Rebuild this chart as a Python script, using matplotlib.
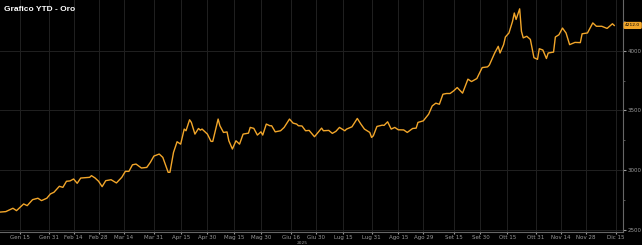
import pandas as pd
import matplotlib.pyplot as plt

# Dati (prezzo oro, 2025)
dates = [
    "2025-01-03", "2025-01-07", "2025-01-11", "2025-01-13", "2025-01-17", "2025-01-19",
    "2025-01-22", "2025-01-25", "2025-01-27", "2025-01-30", "2025-02-01", "2025-02-03",
    "2025-02-06", "2025-02-08", "2025-02-10", "2025-02-12", "2025-02-14", "2025-02-16",
    "2025-02-18", "2025-02-23", "2025-02-24", "2025-02-26", "2025-02-28", "2025-03-02",
    "2025-03-04", "2025-03-07", "2025-03-10", "2025-03-13", "2025-03-15", "2025-03-17",
    "2025-03-19", "2025-03-21", "2025-03-24", "2025-03-27", "2025-03-29", "2025-03-31",
    "2025-04-03", "2025-04-05", "2025-04-07", "2025-04-08", "2025-04-09", "2025-04-11",
    "2025-04-13", "2025-04-15", "2025-04-17", "2025-04-18", "2025-04-20", "2025-04-21",
    "2025-04-23", "2025-04-25", "2025-04-26", "2025-04-27", "2025-04-30", "2025-05-02",
    "2025-05-03", "2025-05-06", "2025-05-07", "2025-05-09", "2025-05-11", "2025-05-12",
    "2025-05-14", "2025-05-16", "2025-05-18", "2025-05-20", "2025-05-23", "2025-05-24",
    "2025-05-26", "2025-05-28", "2025-05-30", "2025-05-31", "2025-06-02", "2025-06-04",
    "2025-06-05", "2025-06-07", "2025-06-10", "2025-06-12", "2025-06-15", "2025-06-17",
    "2025-06-19", "2025-06-20", "2025-06-22", "2025-06-24", "2025-06-26", "2025-06-29",
    "2025-07-01", "2025-07-03", "2025-07-04", "2025-07-07", "2025-07-09", "2025-07-11",
    "2025-07-13", "2025-07-16", "2025-07-17", "2025-07-20", "2025-07-23", "2025-07-25",
    "2025-07-27", "2025-07-30", "2025-07-31", "2025-08-01", "2025-08-03", "2025-08-06",
    "2025-08-07", "2025-08-09", "2025-08-11", "2025-08-13", "2025-08-15", "2025-08-18",
    "2025-08-20", "2025-08-23", "2025-08-25", "2025-08-26", "2025-08-29", "2025-09-01",
    "2025-09-03", "2025-09-05", "2025-09-07", "2025-09-09", "2025-09-11", "2025-09-13",
    "2025-09-15", "2025-09-17", "2025-09-20", "2025-09-23", "2025-09-25", "2025-09-28",
    "2025-10-01", "2025-10-04", "2025-10-05", "2025-10-08", "2025-10-10", "2025-10-11",
    "2025-10-13", "2025-10-14", "2025-10-16", "2025-10-18", "2025-10-19", "2025-10-20",
    "2025-10-22", "2025-10-23", "2025-10-24", "2025-10-26", "2025-10-28", "2025-10-30",
    "2025-11-01", "2025-11-02", "2025-11-04", "2025-11-06", "2025-11-07", "2025-11-10",
    "2025-11-11", "2025-11-13", "2025-11-15", "2025-11-17", "2025-11-19", "2025-11-22",
    "2025-11-25", "2025-11-26", "2025-11-29", "2025-12-02", "2025-12-04", "2025-12-07",
    "2025-12-10", "2025-12-13", "2025-12-14",
]
prices = [
    2648, 2653, 2681, 2661, 2717, 2703,
    2753, 2765, 2745, 2765, 2801, 2815,
    2865, 2856, 2907, 2910, 2926, 2890,
    2934, 2940, 2954, 2935, 2907, 2862,
    2912, 2920, 2893, 2940, 2990, 2990,
    3045, 3051, 3018, 3023, 3065, 3118,
    3135, 3107, 3023, 2982, 2982, 3149,
    3238, 3218, 3344, 3330, 3422, 3400,
    3302, 3349, 3335, 3344, 3302, 3241,
    3241, 3428, 3372, 3316, 3320, 3246,
    3177, 3246, 3218, 3302, 3310, 3358,
    3350, 3294, 3321, 3294, 3386, 3372,
    3372, 3321, 3330, 3358, 3428, 3394,
    3386, 3372, 3370, 3330, 3333, 3280,
    3316, 3352, 3330, 3333, 3308, 3325,
    3358, 3330, 3344, 3363, 3433, 3386,
    3344, 3316, 3274, 3288, 3366, 3377,
    3375, 3405, 3344, 3358, 3338, 3337,
    3316, 3349, 3352, 3400, 3413, 3469,
    3538, 3561, 3552, 3636, 3642, 3642,
    3664, 3692, 3645, 3762, 3742, 3767,
    3859, 3865, 3880, 3981, 4037, 3981,
    4051, 4115, 4149, 4246, 4316, 4262,
    4351, 4163, 4108, 4121, 4095, 3942,
    3928, 4017, 4006, 3935, 3981, 3989,
    4115, 4134, 4190, 4149, 4051, 4070,
    4068, 4142, 4149, 4233, 4205, 4205,
    4187, 4226, 4212,
]

tick_dates = ["2025-01-15", "2025-01-31", "2025-02-14", "2025-02-28", "2025-03-14",
              "2025-03-31", "2025-04-15", "2025-04-30", "2025-05-15", "2025-05-30",
              "2025-06-16", "2025-06-30", "2025-07-15", "2025-07-31", "2025-08-15",
              "2025-08-29", "2025-09-15", "2025-09-30", "2025-10-15", "2025-10-31",
              "2025-11-14", "2025-11-28", "2025-12-15"]
tick_labels = ["Gen 15", "Gen 31", "Feb 14", "Feb 28", "Mar 14", "Mar 31", "Apr 15",
               "Apr 30", "Mag 15", "Mag 30", "Giu 16", "Giu 30", "Lug 15", "Lug 31",
               "Ago 15", "Ago 29", "Set 15", "Set 30", "Ott 15", "Ott 31", "Nov 14",
               "Nov 28", "Dic 15"]
y_ticks = [2500, 3000, 3500, 4000]
y_minor = [2750, 3250, 3750, 4250]

data = pd.DataFrame({"date": pd.to_datetime(dates), "price": prices})

orange = "#f2a62a"
grid_col = "#202020"
text_col = "#9a9a9a"

fig = plt.figure(figsize=(6.42, 2.45), dpi=100, facecolor="black")
ax = fig.add_axes([0, 0.052, 0.9704, 0.948])
ax.set_facecolor("black")

ax.plot(data["date"], data["price"], color=orange, lw=1.0)

ax.set_xlim(pd.Timestamp("2025-01-03 18:00"), pd.Timestamp("2025-12-18 22:00"))
ax.set_ylim(2480, 4425)

ax.set_xticks(pd.to_datetime(tick_dates))
ax.set_xticklabels(tick_labels)
ax.set_yticks(y_ticks)
ax.set_yticks(y_minor, minor=True)
ax.yaxis.tick_right()

ax.grid(True, which="major", color=grid_col, lw=0.7)
ax.tick_params(axis="x", colors=text_col, labelsize=4.0, length=1.5, pad=0.8)
ax.tick_params(axis="y", which="major", colors=text_col, labelsize=4.0, length=2, pad=1.5)
ax.tick_params(axis="y", which="minor", colors="#666666", length=1.5)

for side in ["top", "left"]:
    ax.spines[side].set_visible(False)
ax.spines["right"].set_color("#666666")
ax.spines["bottom"].set_color("#666666")
ax.spines["right"].set_linewidth(0.8)
ax.spines["bottom"].set_linewidth(0.8)

# Ultimo prezzo sull'asse destro
last = data["price"].iloc[-1]
ax.annotate(f"{last:.1f}", xy=(1.0, last), xycoords=("axes fraction", "data"),
            xytext=(1.5, 0), textcoords="offset points", va="center", ha="left",
            fontsize=3.2, color="black", annotation_clip=False,
            bbox=dict(boxstyle="round,pad=0.2", fc=orange, ec=orange))

fig.text(0.006, 0.975, "Grafico YTD - Oro", color="white", fontsize=6,
         fontweight="bold", family="Liberation Sans", va="top", ha="left")
fig.text(0.4704, 0.0, "2025", color=text_col, fontsize=3.2, ha="center", va="bottom")

fig.savefig("out.png", dpi=100, facecolor="black")
